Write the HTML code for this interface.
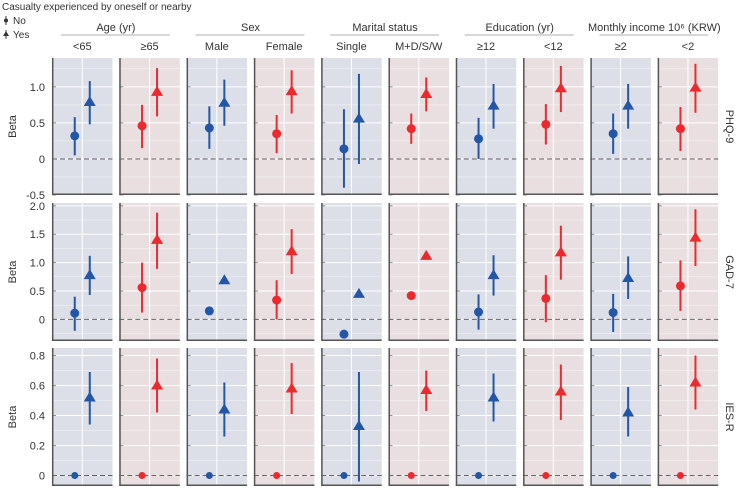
<!DOCTYPE html>
<html><head><meta charset="utf-8"><style>
body{margin:0;background:#fff;}
svg{display:block;font-family:"Liberation Sans",sans-serif;}
</style></head><body>
<svg id="chart" width="738" height="490" viewBox="0 0 738 490" xmlns="http://www.w3.org/2000/svg">
<text x="2" y="10" font-size="10" fill="#333">Casualty experienced by oneself or nearby</text>
<g><line x1="6" y1="16" x2="6" y2="25" stroke="#333"/><circle cx="6" cy="20.5" r="2" fill="#333"/><text x="13" y="24" font-size="10" fill="#333">No</text></g>
<g><line x1="6" y1="30" x2="6" y2="39" stroke="#333"/><polygon points="6,31 9,36 3,36" fill="#333"/><text x="13" y="38" font-size="10" fill="#333">Yes</text></g>
<g id="plot"></g>
</svg>
<script>
const groups = ["Age (yr)","Sex","Marital status","Education (yr)","Monthly income 10⁶ (KRW)"];
const subgroups = ["<65","≥65","Male","Female","Single","M+D/S/W","≥12","<12","≥2","<2"];
const outcomes = ["PHQ-9","GAD-7","IES-R"];
// Per outcome: [No estimate, No lower, No upper, Yes estimate, Yes lower, Yes upper] per subgroup (null = no CI)
const phqNo   = [0.32,0.46,0.43,0.35,0.14,0.42,0.28,0.48,0.35,0.42];
const phqNoLo = [0.05,0.15,0.14,0.08,-0.40,0.21,0.00,0.20,0.07,0.11];
const phqNoHi = [0.58,0.75,0.73,0.61,0.69,0.63,0.57,0.76,0.63,0.72];
const phqYes  = [0.79,0.93,0.78,0.94,0.56,0.90,0.74,0.98,0.74,0.99];
const phqYesLo= [0.48,0.59,0.46,0.63,-0.07,0.66,0.42,0.65,0.42,0.64];
const phqYesHi= [1.08,1.26,1.10,1.23,1.18,1.13,1.04,1.29,1.04,1.32];
const gadNo   = [0.11,0.56,0.15,0.34,-0.26,0.42,0.13,0.37,0.12,0.59];
const gadNoLo = [-0.20,0.12,null,0.00,null,null,-0.18,-0.05,-0.22,0.15];
const gadNoHi = [0.40,1.00,null,0.69,null,null,0.44,0.78,0.45,1.04];
const gadYes  = [0.78,1.40,0.69,1.20,0.45,1.12,0.78,1.18,0.73,1.44];
const gadYesLo= [0.43,0.89,null,0.80,null,null,0.42,0.70,0.36,0.94];
const gadYesHi= [1.12,1.88,null,1.59,null,null,1.13,1.65,1.11,1.94];
const iesNo   = [0,0,0,0,0,0,0,0,0,0];
const iesNoLo = [null,null,null,null,null,null,null,null,null,null];
const iesNoHi = [null,null,null,null,null,null,null,null,null,null];
const iesYes  = [0.52,0.60,0.44,0.58,0.33,0.57,0.52,0.56,0.42,0.62];
const iesYesLo= [0.34,0.42,0.26,0.41,-0.04,0.43,0.36,0.37,0.26,0.44];
const iesYesHi= [0.69,0.78,0.62,0.75,0.69,0.70,0.68,0.74,0.59,0.80];
const phqTicks = [-0.5,0,0.5,1.0];
const gadTicks = [0,0.5,1.0,1.5,2.0];
const iesTicks = [0,0.2,0.4,0.6,0.8];
const phqTickLabels = ["-0.5","0","0.5","1.0"];
const gadTickLabels = ["0","0.5","1.0","1.5","2.0"];
const iesTickLabels = ["0","0.2","0.4","0.6","0.8"];

const NS="http://www.w3.org/2000/svg";
const plot=document.getElementById('plot');
function mk(tag,attrs,parent,text){const e=document.createElementNS(NS,tag);for(const k in attrs)e.setAttribute(k,attrs[k]);if(text!==undefined)e.textContent=text;(parent||plot).appendChild(e);return e;}
const rows=[
 {top:58,bot:195,dMin:-0.5,dMax:1.4,ticks:phqTicks,labels:phqTickLabels,minor:0.25,no:[phqNo,phqNoLo,phqNoHi],yes:[phqYes,phqYesLo,phqYesHi],r:4.5},
 {top:203,bot:341,dMin:-0.38,dMax:2.05,ticks:gadTicks,labels:gadTickLabels,minor:0.25,no:[gadNo,gadNoLo,gadNoHi],yes:[gadYes,gadYesLo,gadYesHi],r:4.5},
 {top:348,bot:486,dMin:-0.07,dMax:0.85,ticks:iesTicks,labels:iesTickLabels,minor:0.1,no:[iesNo,iesNoLo,iesNoHi],yes:[iesYes,iesYesLo,iesYesHi],r:3.5}
];
const pw=60.5, step=67.3, x0=52;
const blue="#2356a6", red="#ec2a2e";
// headers
groups.forEach((g,i)=>{
  const l=x0+2*i*step, r=l+step+pw;
  const t=mk('text',{x:(l+r)/2,y:31,'font-size':11,'text-anchor':'middle',fill:'#333'},plot,g);
  
  
  const ln=mk('line',{x1:l+9,x2:r-10,y1:35,y2:35,stroke:'#999','stroke-width':0.8});
  
  
});
subgroups.forEach((s,i)=>{
  const t=mk('text',{x:x0+i*step+pw/2,y:50,'font-size':11,'text-anchor':'middle',fill:'#333'},plot,s);
  
  
});
rows.forEach((row,ri)=>{
  const y=v=>row.bot-(v-row.dMin)/(row.dMax-row.dMin)*(row.bot-row.top);
  const yl=mk('text',{x:0,y:0,'font-size':11,'text-anchor':'middle',fill:'#333',transform:`translate(16,${(row.top+row.bot)/2}) rotate(-90)`},plot,'Beta');
  
  
  const rl=mk('text',{x:0,y:0,'font-size':11,'text-anchor':'middle',fill:'#333',transform:`translate(726,${(row.top+row.bot)/2}) rotate(90)`},plot,outcomes[ri]);
  
  
  row.ticks.forEach((t,k)=>{
    const tl=mk('text',{x:45,y:y(t)+4,'font-size':11,'text-anchor':'end',fill:'#333'},plot,row.labels[k]);
    
    
  });
  for(let p=0;p<10;p++){
    const px=x0+p*step, isRed=p%2===1, col=isRed?red:blue;
    const g=mk('g',{});
    
    
    mk('rect',{x:px,y:row.top,width:pw,height:row.bot-row.top,fill:isRed?'#eadfe0':'#dcdfe8'},g);
    const mstep=row.minor;
    for(let v=Math.ceil(row.dMin/mstep)*mstep; v<=row.dMax+1e-9; v+=mstep){
      const major=row.ticks.some(t=>Math.abs(t-v)<1e-6);
      mk('line',{x1:px,x2:px+pw,y1:y(v),y2:y(v),stroke:'#fff','stroke-width':major?1:0.5,opacity:major?1:0.7},g);
      if(major) mk('line',{x1:px,x2:px+4,y1:y(v),y2:y(v),stroke:'#777','stroke-width':0.8},g);
    }
    mk('line',{x1:px+pw/2,x2:px+pw/2,y1:row.top,y2:row.bot,stroke:'#fff','stroke-width':1},g);
    mk('line',{x1:px,x2:px+pw,y1:y(0),y2:y(0),stroke:'#666','stroke-width':1,'stroke-dasharray':'5,3'},g);
    mk('line',{x1:px+0.7,x2:px+0.7,y1:row.top,y2:row.bot,stroke:'#555','stroke-width':1.5},g);
    mk('line',{x1:px,x2:px+pw,y1:row.bot-0.7,y2:row.bot-0.7,stroke:'#555','stroke-width':1.5},g);
    const cx=px+pw/2-7.5, tx=px+pw/2+7.5;
    if(row.no[1][p]!==null){
      const e=mk('line',{x1:cx,x2:cx,y1:y(row.no[1][p]),y2:y(row.no[2][p]),stroke:col,'stroke-width':2});
      
      
    }
    const c=mk('circle',{cx:cx,cy:y(row.no[0][p]),r:row.r,fill:col});
    
    
    if(row.yes[1][p]!==null){
      const e=mk('line',{x1:tx,x2:tx,y1:y(row.yes[1][p]),y2:y(row.yes[2][p]),stroke:col,'stroke-width':2});
      
      
    }
    const ty=y(row.yes[0][p]);
    const tr=mk('polygon',{points:`${tx},${ty-6} ${tx+6},${ty+4} ${tx-6},${ty+4}`,fill:col});
    
    
  }
});
</script>
</body></html>
